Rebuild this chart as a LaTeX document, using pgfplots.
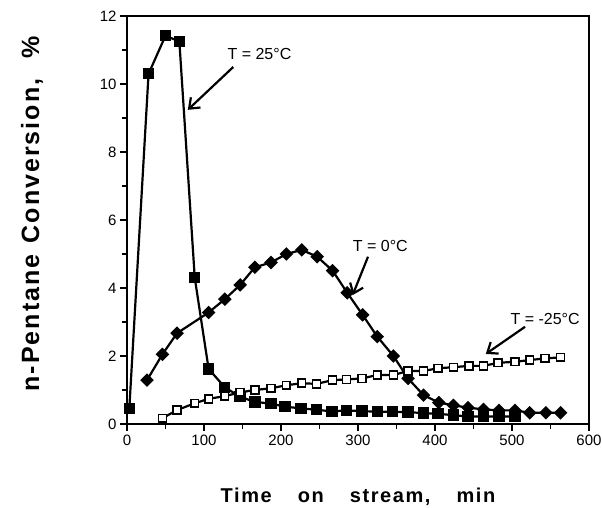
\documentclass[border=0pt]{standalone}
\usepackage{pgfplots}
\pgfplotsset{compat=1.18}
\usepackage{fontspec}
\setmainfont{Liberation Sans}
\newfontfamily\labelfont[LetterSpace=8]{Liberation Sans}
\usetikzlibrary{arrows.meta}

\begin{document}
\begin{tikzpicture}
\path[use as bounding box] (-127pt,-84pt) rectangle (475pt,424pt);
\begin{axis}[
    at={(0pt,0pt)}, anchor=south west,
    scale only axis,
    width=462pt, height=408pt,
    xmin=0, xmax=600,
    ymin=0, ymax=12,
    xtick={0,100,...,600},
    ytick={0,2,...,12},
    minor xtick={50,150,...,550},
    minor ytick={1,3,...,11},
    xtick pos=bottom,
    ytick pos=left,
    tick align=outside,
    major tick length=7pt,
    minor tick length=5pt,
    every tick/.style={line width=1.5pt, black},
    axis line style={line width=1.8pt},
    ticklabel style={font=\fontsize{15}{17}\selectfont},
    /pgf/number format/assume math mode=true,
    xlabel={\labelfont\fontsize{20}{24}\selectfont\bfseries Time\hspace{1.3em}on\hspace{1.3em}stream,\hspace{1.3em}min},
    ylabel={\labelfont\fontsize{25}{28}\selectfont\bfseries n-Pentane\hspace{0.45em}Conversion,\hspace{0.8em}\%},
    xlabel style={at={(axis description cs:0.5,0)}, anchor=center, yshift=-73pt},
    ylabel style={at={(axis description cs:-0.2056,0.515)}, anchor=center},
    clip=false,
]

% T = 25 C, filled squares
\addplot[black, line width=2.2pt, mark=square*, mark size=4.6pt, mark options={solid}]
coordinates {
(3,0.45)(28,10.3)(50,11.42)(68,11.25)(88,4.3)(106,1.62)(127,1.08)(147,0.8)
(166,0.65)(187,0.6)(205,0.51)(226,0.46)(246,0.42)(266,0.37)(285,0.4)(305,0.38)
(325,0.36)(345,0.36)(365,0.35)(385,0.32)(404,0.3)(424,0.26)(443,0.22)(463,0.22)
(483,0.22)(504,0.22)
};

% T = 0 C, filled diamonds
\addplot[black, line width=2.2pt, mark=square*, mark size=3.7pt, mark options={solid, rotate=45}]
coordinates {
(26,1.29)(46,2.05)(65,2.67)(106,3.28)(127,3.67)(147,4.09)(166,4.61)(187,4.75)
(207,5.0)(227,5.12)(247,4.92)(267,4.51)(286,3.86)(306,3.21)(325,2.57)(346,2.0)
(365,1.34)(385,0.85)(405,0.63)(424,0.55)(443,0.48)(463,0.43)(483,0.4)(504,0.4)
(523,0.33)(544,0.33)(563,0.33)
};

% T = -25 C, open squares
\addplot[black, line width=2.2pt, mark=square*, mark size=3.9pt, mark options={solid, fill=white, line width=1.6pt}]
coordinates {
(46,0.17)(65,0.41)(88,0.61)(106,0.74)(127,0.82)(147,0.93)(166,1.0)(187,1.05)
(207,1.14)(227,1.2)(246,1.18)(267,1.29)(285,1.31)(305,1.34)(325,1.44)(346,1.44)
(365,1.56)(385,1.56)(404,1.64)(424,1.67)(444,1.71)(463,1.71)(482,1.8)(504,1.83)
(523,1.88)(543,1.93)(563,1.96)
};

\node[font=\fontsize{16}{18}\selectfont] at (axis cs:172,10.88) {T = 25°C};
\draw[line width=2.2pt, -{Straight Barb[length=9pt, width=14pt]}] (axis cs:138,10.5) -- (axis cs:79,9.24);

\node[font=\fontsize{16}{18}\selectfont] at (axis cs:329,5.24) {T = 0°C};
\draw[line width=2.2pt, -{Straight Barb[length=9pt, width=14pt]}] (axis cs:313,4.92) -- (axis cs:293,3.79);

\node[font=\fontsize{16}{18}\selectfont] at (axis cs:543,3.1) {T = -25°C};
\draw[line width=2.2pt, -{Straight Barb[length=9pt, width=14pt]}] (axis cs:517,2.86) -- (axis cs:466,2.06);

\end{axis}
\end{tikzpicture}
\end{document}
